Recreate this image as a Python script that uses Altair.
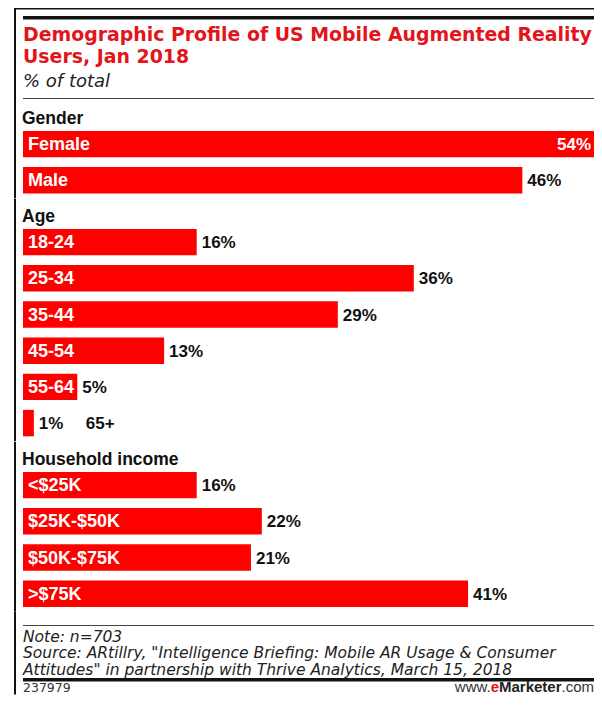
import altair as alt
import pandas as pd

# ---------------- data ----------------
TITLE_LINES = ["Demographic Profile of US Mobile Augmented Reality", "Users, Jan 2018"]
SUBTITLE = "% of total"
SECTIONS = ["Gender", "Age", "Household income"]

GENDER_CATS = ["Female", "Male"]
GENDER_VALS = [54, 46]

AGE_CATS = ["18-24", "25-34", "35-44", "45-54", "55-64", "65+"]
AGE_VALS = [16, 36, 29, 13, 5, 1]

INCOME_CATS = ["<$25K", "$25K-$50K", "$50K-$75K", ">$75K"]
INCOME_VALS = [16, 22, 21, 41]

NOTE_LINES = [
    "Note: n=703",
    'Source: ARtillry, "Intelligence Briefing: Mobile AR Usage & Consumer',
    'Attitudes" in partnership with Thrive Analytics, March 15, 2018',
]
CHART_ID = "237979"
BRAND = ["www.", "e", "Marketer", ".com"]

# ---------------- layout / style ----------------
W = 571
STEP = 36.2
HEAD_H = 25
TOP_H = 93
FOOT_H = 82.5
XMAX = 52.6          # x-scale upper bound (longest bar runs off the edge)
MIN_IN = 3           # bars narrower than this get their category outside
RED = "#ff0000"
TITLE_RED = "#e3141b"
FONT = "Liberation Sans"
INK = "#111111"
ONE = pd.DataFrame({"b": [0]})


def band(x0, x1, y0, y1, color=INK):
    """A filled strip used for the frame and separator lines."""
    return alt.Chart(ONE).mark_rect(color=color).encode(
        x=alt.value(x0), x2=alt.value(x1), y=alt.value(y0), y2=alt.value(y1)
    )


def border(h):
    return band(-9, -7, 0, h)


# ---- top block: frame, title, subtitle ----
title_df = pd.DataFrame({"t": ["\n".join(TITLE_LINES)], "s": [SUBTITLE]})
title_txt = alt.Chart(title_df).mark_text(
    align="left", baseline="alphabetic", font="DejaVu Sans", fontWeight="bold",
    fontSize=18.9, color=TITLE_RED, lineBreak="\n", lineHeight=22,
).encode(x=alt.value(0), y=alt.value(33), text="t:N")
sub_txt = alt.Chart(title_df).mark_text(
    align="left", baseline="alphabetic", font="DejaVu Sans", fontStyle="italic",
    fontSize=18, color="#222222",
).encode(x=alt.value(0), y=alt.value(79), text="s:N")

top = alt.layer(
    band(-9, W, 0, 1.5),
    band(0, W, 8, 11.5),
    title_txt,
    sub_txt,
    band(0, W, 90, 91, color="#444444"),
    border(TOP_H),
).properties(width=W, height=TOP_H)


def header(text):
    df = pd.DataFrame({"h": [text]})
    t = alt.Chart(df).mark_text(
        align="left", baseline="alphabetic", font=FONT, fontWeight="bold",
        fontSize=17.5, color=INK,
    ).encode(x=alt.value(-1), y=alt.value(23), text="h:N")
    return alt.layer(t, border(HEAD_H)).properties(width=W, height=HEAD_H)


def bar_panel(cats, vals):
    n = len(cats)
    df = pd.DataFrame({"cat": cats, "val": vals})
    df["label"] = [f"{v}%" for v in vals]
    df["zero"] = 0
    xs = alt.Scale(domain=[0, XMAX], clamp=True)
    ys = alt.Scale(paddingInner=0.27, paddingOuter=0.135)
    base = alt.Chart(df).encode(y=alt.Y("cat:N", sort=cats, scale=ys, axis=None))
    txt = dict(baseline="middle", font=FONT, fontWeight="bold", dy=1)

    bars = base.mark_bar(color=RED).encode(x=alt.X("val:Q", scale=xs, axis=None))
    cat_in = base.transform_filter(f"datum.val >= {MIN_IN}").mark_text(
        align="left", dx=5, color="white", fontSize=18, **txt
    ).encode(x=alt.X("zero:Q", scale=xs, axis=None), text="cat:N")
    val_out = base.transform_filter(f"datum.val <= {XMAX}").mark_text(
        align="left", dx=5, color=INK, fontSize=17, **txt
    ).encode(x=alt.X("val:Q", scale=xs, axis=None), text="label:N")
    val_in = base.transform_filter(f"datum.val > {XMAX}").mark_text(
        align="right", dx=-3, color="white", fontSize=17, **txt
    ).encode(x=alt.X("val:Q", scale=xs, axis=None), text="label:N")
    cat_out = base.transform_filter(f"datum.val < {MIN_IN}").mark_text(
        align="left", dx=52, color=INK, fontSize=17, **txt
    ).encode(x=alt.X("val:Q", scale=xs, axis=None), text="cat:N")

    return alt.layer(
        bars, cat_in, val_out, val_in, cat_out, border(n * STEP)
    ).properties(width=W, height=n * STEP)


# ---- footer ----
note_df = pd.DataFrame({"n": ["\n".join(NOTE_LINES)], "id": [CHART_ID]})
note_txt = alt.Chart(note_df).mark_text(
    align="left", baseline="alphabetic", font="DejaVu Sans", fontStyle="italic",
    fontSize=15.5, color="#222222", lineBreak="\n", lineHeight=16.5,
).encode(x=alt.value(0), y=alt.value(29.5), text="n:N")
id_txt = alt.Chart(note_df).mark_text(
    align="left", baseline="alphabetic", font="DejaVu Sans", fontSize=12.5,
    color="#333333",
).encode(x=alt.value(0), y=alt.value(79.5), text="id:N")

brand_df = pd.DataFrame({"p": BRAND})
brand_specs = [
    (BRAND[3], "normal", "#333333", W),
    (BRAND[2], "bold", "#222222", W - 32.5),
    (BRAND[1], "bold", TITLE_RED, W - 32.5 - 62.5),
    (BRAND[0], "normal", "#333333", W - 32.5 - 62.5 - 8.3),
]
brand_marks = []
for piece, weight, color, xr in brand_specs:
    brand_marks.append(
        alt.Chart(brand_df).transform_filter(alt.datum.p == piece).mark_text(
            align="right", baseline="alphabetic", font=FONT, fontSize=15,
            fontWeight=weight, color=color,
        ).encode(x=alt.value(xr), y=alt.value(79.5), text="p:N")
    )

foot = alt.layer(
    band(0, W, 13, 14, color="#444444"),
    note_txt,
    band(0, W, 66, 69.5),
    id_txt,
    *brand_marks,
    border(FOOT_H),
).properties(width=W, height=FOOT_H)

chart = alt.vconcat(
    top,
    header(SECTIONS[0]), bar_panel(GENDER_CATS, GENDER_VALS),
    header(SECTIONS[1]), bar_panel(AGE_CATS, AGE_VALS),
    header(SECTIONS[2]), bar_panel(INCOME_CATS, INCOME_VALS),
    foot,
    spacing=0,
    bounds="flush",
    padding={"left": 6, "top": 0, "right": 0, "bottom": 0},
).configure_view(stroke=None)

chart.save("out.html", embed_options={"renderer": "svg", "actions": False})
